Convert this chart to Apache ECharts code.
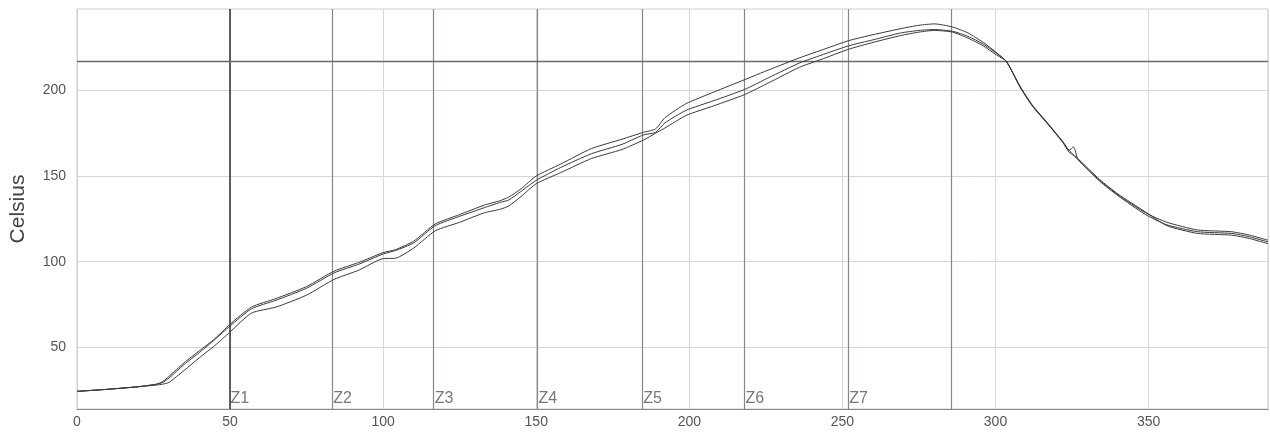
<!DOCTYPE html>
<html>
<head>
<meta charset="utf-8">
<script src="https://cdn.jsdelivr.net/npm/echarts@6/dist/echarts.min.js"></script>
<style>
html,body{margin:0;padding:0;background:#fff;}
#chart{width:1270px;height:432px;}
</style>
</head>
<body>
<div id="chart"></div>
<script>
// ---- data ----
const timeS = [0,10,20,26,28,30,35,40,45,50,57,65,75,84,92,100,104,110,117,125,133,138,141,145,150,158,168,178,185,189,192,199,208,218,226,236,243,252,260,269,275,280,286,291,296,300,303.5,308,312,317,322,324,325.5,327,334,340,349,356,366,377,383,389];
const tc1 = [24.3,25.5,27,28.5,30,33,41,48,55,63.5,73.5,78.5,85.5,94.5,99.5,105.3,107,112,122,127.5,133,135.5,137.7,142.5,150,157,166,171.5,175.5,177.5,184,192.3,199,206.2,212,219,223.4,229,232.5,236,238,238.8,237,233.5,228,222.5,217,202,191,180.5,170,165,167,159.5,147.5,139,128.5,123,118.5,117.5,115.5,112.5];
const tc2 = [24.3,25.5,27,28.5,29.5,32,40,47,54.5,62.5,72.5,77.5,84.5,93.5,98.5,104.5,106.5,111,121,126.5,131.5,134.5,136,141,147.5,155,163,168.5,174,175.5,181,188.4,194,200.5,207.5,216,220.5,226,229.5,233.5,235,235.5,234.5,231.5,227,222,217,202,191,180.5,169.5,164,162,159.5,147,138.5,127.5,121.5,117.5,116.5,114.5,111.5];
const tc3 = [24.3,25.5,27,28,28.5,29.5,36.5,44,51,59,70,73.5,80.5,89.7,95,101.8,102,108,118,123,128.5,130.5,132.5,138,145.5,152,160.2,165.5,171,175,178,185.4,191,197.5,204.5,213.5,218,224,228,232,234,235,234,230.5,226,221,217,202.5,191.5,181,170,165,162.5,160,148,139.5,129,121,116.5,115.5,113.5,110.5];
const zoneX = [49.8,83.4,116.5,150.4,184.6,218,251.9];
const zoneNames = ['Z1','Z2','Z3','Z4','Z5','Z6','Z7'];
const extraX = [285.6];
const refY = [217];
const yTicks = [50,100,150,200];
const yRange = [14,247.5];
const xRange = [0,389];

const pair = (ys) => timeS.map((t,i) => [t, ys[i]]);
const curveStyle = {color:'#3a3a3a', width:1};

const chart = echarts.init(document.getElementById('chart'), null, {renderer:'canvas'});
chart.setOption({
  animation:false,
  backgroundColor:'#fff',
  textStyle:{fontFamily:'Liberation Sans, Arial, sans-serif'},
  grid:{left:76,right:2,top:9,bottom:23,show:true,borderColor:'#cfcfcf',borderWidth:1},
  xAxis:{
    type:'value', min:xRange[0], max:xRange[1], interval:50,
    axisLine:{show:true,lineStyle:{color:'#8a8a8a',width:1}},
    axisTick:{show:false},
    axisLabel:{color:'#555',fontSize:14,margin:6,showMaxLabel:false},
    splitLine:{show:true,lineStyle:{color:'#d6d6d6',width:1}}
  },
  yAxis:{
    type:'value', min:yRange[0], max:yRange[1],
    name:'Celsius', nameLocation:'middle', nameGap:48,
    nameTextStyle:{color:'#444',fontSize:21},
    axisLine:{show:true,lineStyle:{color:'#cfcfcf'}},
    axisTick:{show:false},
    axisLabel:{color:'#555',fontSize:14,margin:11,customValues:yTicks},
    splitLine:{show:false}
  },
  series:[
    {
      type:'line', data:[], silent:true,
      markLine:{
        silent:true, symbol:'none', label:{show:false},
        lineStyle:{type:'solid',color:'#d6d6d6',width:1},
        data: yTicks.map(v => ({yAxis:v}))
      }
    },
    {
      type:'line', data:[], silent:true,
      markLine:{
        silent:true, symbol:'none', label:{show:false},
        data: [].concat(
          zoneX.map((v,i) => ({xAxis:v, lineStyle:{type:'solid',color:i===0?'#2e2e2e':'#7d8a90',width:i===0?1.5:1.2}})),
          extraX.map(v => ({xAxis:v, lineStyle:{type:'solid',color:'#7d8a90',width:1.2}})),
          refY.map(v => ({yAxis:v, lineStyle:{type:'solid',color:'#6a6a6a',width:1.3}}))
        )
      }
    },
    {type:'line', data:pair(tc1), symbol:'none', smooth:0.2, lineStyle:curveStyle, z:5},
    {type:'line', data:pair(tc2), symbol:'none', smooth:0.2, lineStyle:curveStyle, z:5},
    {type:'line', data:pair(tc3), symbol:'none', smooth:0.2, lineStyle:curveStyle, z:5},
    {
      type:'scatter', symbolSize:0, silent:true,
      data: zoneX.map((v,i) => ({value:[v, yRange[0]], name:zoneNames[i]})),
      label:{show:true, formatter:p => p.name, position:[1,-18], color:'#555', fontSize:16, align:'left', verticalAlign:'top'}
    }
  ]
});
</script>
</body>
</html>
